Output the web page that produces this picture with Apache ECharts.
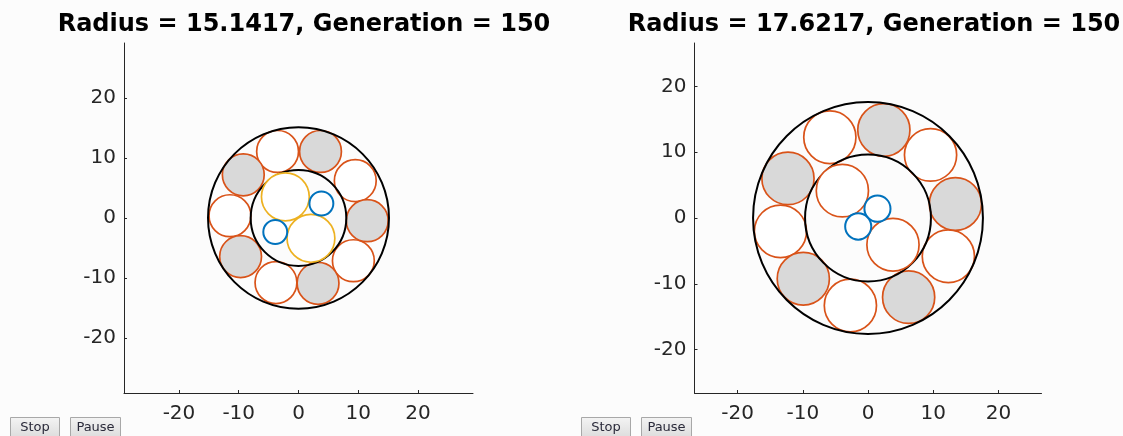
<!DOCTYPE html>
<html>
<head>
<meta charset="utf-8">
<style>
  html, body { margin: 0; padding: 0; background: #fcfcfc; }
  #chart { width: 1123px; height: 436px; }
</style>
<script src="https://cdn.jsdelivr.net/npm/echarts@6/dist/echarts.min.js"></script>
</head>
<body>
<div id="chart"></div>
<script>
'use strict';

// each circle: [x, y, radius]
var radii = [15.1417, 17.6217];
var generations = [150, 150];
var tickValues = [-20, -10, 0, 10, 20];
var axisLimits = [29.2, 26.6];

var leftOuter = [[0, 0, 15.1417]];
var leftCore = [[0, 0, 8]];
var leftRingOpen = [[-3.5, 11.1, 3.5], [9.5, 6.23, 3.5], [9.18, -7.13, 3.5], [-3.77, -10.78, 3.5], [-11.47, 0.38, 3.5]];
var leftRingFilled = [[3.68, 11.1, 3.5], [11.5, -0.45, 3.5], [3.27, -10.9, 3.5], [-9.69, -6.44, 3.5], [-9.24, 7.2, 3.5]];
var leftInner = [[-2.2, 3.53, 4], [2.08, -3.38, 4]];
var leftSmall = [[3.83, 2.42, 2], [-3.89, -2.34, 2]];

var rightOuter = [[0, 0, 17.6217]];
var rightCore = [[0, 0, 9.65]];
var rightRingOpen = [[-5.85, 12.28, 4], [9.59, 9.59, 4], [12.32, -5.81, 4], [-2.7, -13.3, 4], [-13.42, -2.03, 4]];
var rightRingFilled = [[2.43, 13.38, 4], [13.4, 2.13, 4], [6.23, -12.03, 4], [-9.92, -9.24, 4], [-12.27, 6.02, 4]];
var rightInner = [[-3.93, 4.16, 4], [3.83, -4.06, 4]];
var rightSmall = [[1.45, 1.42, 2], [-1.5, -1.29, 2]];

var ORANGE = '#D95319', YELLOW = '#EDB120', BLUE = '#0072BD', GRAY = '#D9D9D9', INK = '#262626';

function circles(data, idx, stroke, fill, width) {
    return {
        type: 'custom',
        xAxisIndex: idx,
        yAxisIndex: idx,
        silent: true,
        data: data,
        renderItem: function (params, api) {
            var c = api.coord([api.value(0), api.value(1)]);
            var s = api.size([api.value(2), api.value(2)]);
            return {
                type: 'ellipse',
                shape: { cx: c[0], cy: c[1], rx: s[0], ry: s[1] },
                style: { fill: fill, stroke: stroke, lineWidth: width }
            };
        }
    };
}

function axis(idx, lim, margin) {
    return {
        gridIndex: idx,
        type: 'value',
        min: -lim,
        max: lim,
        splitLine: { show: false },
        axisLine: { onZero: false, lineStyle: { color: INK, width: 1 } },
        axisTick: { inside: true, length: 3, customValues: tickValues, lineStyle: { color: INK } },
        axisLabel: {
            customValues: tickValues,
            color: INK,
            fontSize: 20,
            fontFamily: 'DejaVu Sans',
            margin: margin
        }
    };
}

function button(x, label, w) {
    return {
        type: 'group',
        left: x,
        top: 417,
        children: [
            {
                type: 'rect',
                shape: { x: 0, y: 0, width: w, height: 20 },
                style: {
                    fill: new echarts.graphic.LinearGradient(0, 0, 0, 1, [
                        { offset: 0, color: '#f4f4f4' }, { offset: 1, color: '#dcdcdc' }
                    ]),
                    stroke: '#a8a8a8',
                    lineWidth: 1
                }
            },
            {
                type: 'text',
                x: w / 2,
                y: 10,
                style: {
                    text: label,
                    fill: '#2a2a3a',
                    font: '13px "DejaVu Sans"',
                    align: 'center',
                    verticalAlign: 'middle'
                }
            }
        ]
    };
}

var chart = echarts.init(document.getElementById('chart'));
chart.setOption({
    backgroundColor: '#fcfcfc',
    animation: false,
    title: [0, 1].map(function (i) {
        return {
            text: 'Radius = ' + radii[i] + ', Generation = ' + generations[i],
            left: i === 0 ? 299 : 869,
            top: 8,
            textAlign: 'center',
            textStyle: { fontSize: 24, fontWeight: 'bold', color: '#000', fontFamily: 'DejaVu Sans' }
        };
    }),
    grid: [
        { left: 124, top: 43, width: 349, height: 350 },
        { left: 694.5, top: 43, width: 347, height: 350 }
    ],
    xAxis: [axis(0, axisLimits[0], 11), axis(1, axisLimits[1], 11)],
    yAxis: [axis(0, axisLimits[0], 8), axis(1, axisLimits[1], 8)],
    graphic: [
        button(10, 'Stop', 49), button(70, 'Pause', 50),
        button(581, 'Stop', 49), button(641, 'Pause', 50)
    ],
    series: [
        circles(leftRingOpen, 0, ORANGE, '#fff', 1.7),
        circles(leftRingFilled, 0, ORANGE, GRAY, 1.7),
        circles(leftOuter, 0, '#000', null, 2),
        circles(leftCore, 0, '#000', null, 2),
        circles(leftInner, 0, YELLOW, '#fff', 1.7),
        circles(leftSmall, 0, BLUE, '#fff', 2),

        circles(rightRingOpen, 1, ORANGE, '#fff', 1.7),
        circles(rightRingFilled, 1, ORANGE, GRAY, 1.7),
        circles(rightOuter, 1, '#000', null, 2),
        circles(rightCore, 1, '#000', null, 2),
        circles(rightInner, 1, ORANGE, '#fff', 1.7),
        circles(rightSmall, 1, BLUE, '#fff', 2)
    ]
});
</script>
</body>
</html>
